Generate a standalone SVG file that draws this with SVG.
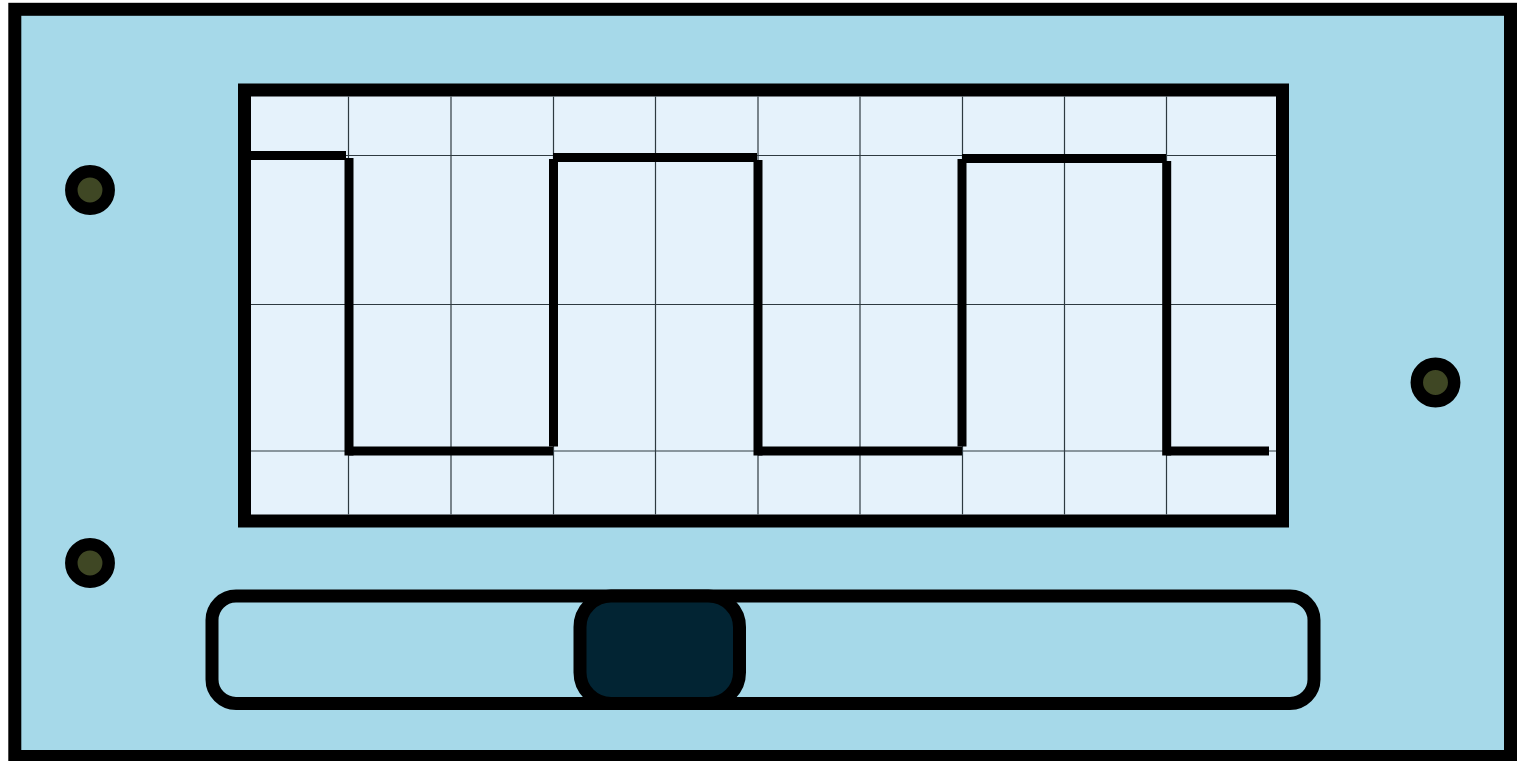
<svg xmlns="http://www.w3.org/2000/svg" width="1523" height="761" viewBox="0 0 1523 761">
<style>
.thick{fill:none;stroke:#000;stroke-width:13}
.grid{stroke:#2e3a40;stroke-width:1.2;fill:none}
.wave{stroke:#000;stroke-width:9;stroke-linecap:butt;fill:none}
.led{fill:#3f4724;stroke:#000;stroke-width:12.5}
</style>
<rect x="0" y="0" width="1523" height="761" fill="#fff"/>
<g id="panel">
<rect x="14.8" y="9.3" width="1495.7" height="747.2" fill="#a6d9e9" stroke="#000" stroke-width="13"/>
</g>
<g id="screen">
<rect x="244.5" y="90" width="1038" height="431" fill="#e5f2fb" stroke="#000" stroke-width="13"/>
<g class="grid">
<line x1="348.5" y1="96.5" x2="348.5" y2="514.5"/>
<line x1="451" y1="96.5" x2="451" y2="514.5"/>
<line x1="553.5" y1="96.5" x2="553.5" y2="514.5"/>
<line x1="655.5" y1="96.5" x2="655.5" y2="514.5"/>
<line x1="758" y1="96.5" x2="758" y2="514.5"/>
<line x1="860" y1="96.5" x2="860" y2="514.5"/>
<line x1="962.5" y1="96.5" x2="962.5" y2="514.5"/>
<line x1="1064.5" y1="96.5" x2="1064.5" y2="514.5"/>
<line x1="1166.5" y1="96.5" x2="1166.5" y2="514.5"/>
<line x1="251" y1="155.5" x2="1276" y2="155.5"/>
<line x1="251" y1="304.5" x2="1276" y2="304.5"/>
<line x1="251" y1="451" x2="1276" y2="451"/>
</g>
</g>
<g id="waveform" class="wave">
<line x1="251" y1="155.5" x2="346" y2="155.5"/>
<line x1="349" y1="158" x2="349" y2="455.5"/>
<line x1="349" y1="451" x2="553" y2="451"/>
<line x1="553.5" y1="159" x2="553.5" y2="446.5"/>
<line x1="553" y1="157.5" x2="757" y2="157.5"/>
<line x1="758" y1="160" x2="758" y2="455.5"/>
<line x1="758" y1="451" x2="962" y2="451"/>
<line x1="962" y1="159" x2="962" y2="446.5"/>
<line x1="962" y1="158.5" x2="1166" y2="158.5"/>
<line x1="1166.7" y1="161" x2="1166.7" y2="455.5"/>
<line x1="1166" y1="451" x2="1269" y2="451"/>
</g>
<g id="led1"><circle class="led" cx="90" cy="190" r="18.7"/></g>
<g id="led2"><circle class="led" cx="90" cy="563" r="18.7"/></g>
<g id="led3"><circle class="led" cx="1435.5" cy="382.5" r="18.7"/></g>
<g id="slider">
<rect class="thick" x="212" y="596" width="1102" height="107.5" rx="24" ry="24"/>
</g>
<g id="knob">
<rect x="580" y="596" width="159.5" height="107.5" rx="31" ry="31" fill="#022433" stroke="#000" stroke-width="13"/>
</g>
</svg>
